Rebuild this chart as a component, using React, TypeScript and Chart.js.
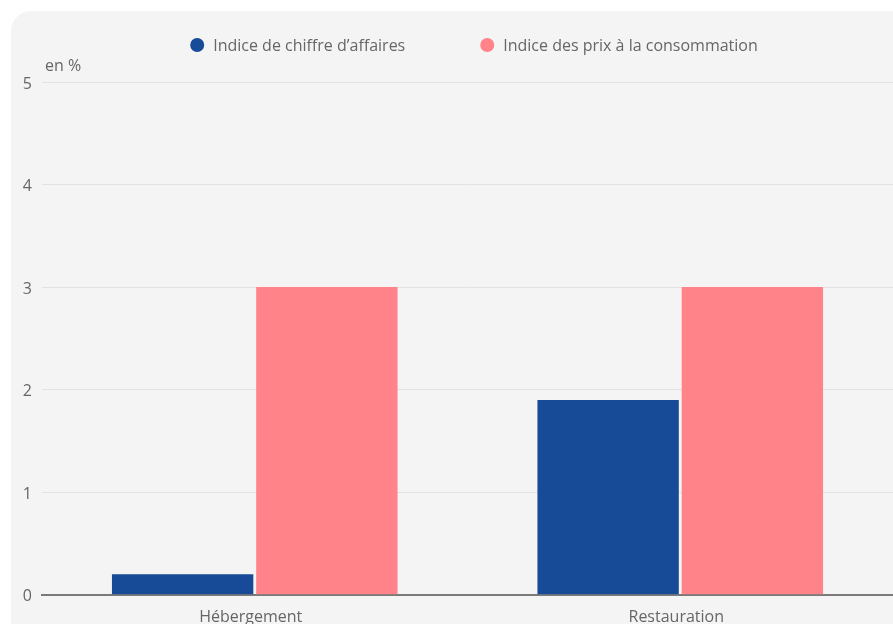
import React, { useEffect, useRef } from "react";
import { Chart, registerables } from "chart.js";

Chart.register(...registerables);

const categories = ["Hébergement", "Restauration"];
const seriesNames = ["Indice de chiffre d’affaires", "Indice des prix à la consommation"];
const chiffreAffaires = [0.2, 1.9];
const prixConsommation = [3.0, 3.0];
const yTicks = [0, 1, 2, 3, 4, 5];
const yTitle = "en %";

const BLUE = "#174a97";
const PINK = "#ff8389";
const FONT = "'Open Sans', 'Noto Sans', sans-serif";

const legendPlugin = {
  id: "customLegend",
  afterDraw(chart: any) {
    const ctx = chart.ctx;
    ctx.save();
    ctx.font = `16px ${FONT}`;
    ctx.textBaseline = "middle";
    const colors = [BLUE, PINK];
    const r = 7;
    const gapText = 9;
    const gapItem = 75;
    const widths = seriesNames.map((n) => 2 * r + gapText + ctx.measureText(n).width);
    const total = widths.reduce((a, b) => a + b, 0) + gapItem * (seriesNames.length - 1);
    let x = 474 - total / 2;
    const y = 45;
    seriesNames.forEach((n, i) => {
      ctx.fillStyle = colors[i];
      ctx.beginPath();
      ctx.arc(x + r, y, r, 0, Math.PI * 2);
      ctx.fill();
      ctx.fillStyle = "#666666";
      ctx.textAlign = "left";
      ctx.fillText(n, x + 2 * r + gapText, y + 1);
      x += widths[i] + gapItem;
    });
    // y axis title
    ctx.font = `16px ${FONT}`;
    ctx.fillStyle = "#666666";
    ctx.fillText(yTitle, chart.chartArea.left + 3, chart.chartArea.top - 16);
    ctx.restore();
  },
};

export default function App() {
  const ref = useRef<HTMLCanvasElement | null>(null);
  useEffect(() => {
    if (!ref.current) return;
    const chart = new Chart(ref.current, {
      type: "bar",
      data: {
        labels: categories,
        datasets: [
          {
            label: seriesNames[0],
            data: chiffreAffaires,
            backgroundColor: BLUE,
            categoryPercentage: 0.678,
            barPercentage: 0.98,
          },
          {
            label: seriesNames[1],
            data: prixConsommation,
            backgroundColor: PINK,
            categoryPercentage: 0.678,
            barPercentage: 0.98,
          },
        ],
      },
      options: {
        animation: false,
        responsive: false,
        maintainAspectRatio: false,
        layout: { padding: { top: 82, bottom: 0, left: 0, right: 0 } },
        plugins: {
          legend: { display: false },
          tooltip: { enabled: false },
        },
        scales: {
          x: {
            grid: { display: false, drawTicks: false },
            border: { display: true, color: "#7a7a7a", width: 2 },
            ticks: { color: "#666666", font: { family: FONT, size: 16 }, padding: 13, labelOffset: -4 },
          },
          y: {
            min: 0,
            max: 5,
            afterBuildTicks(scale: any) {
              scale.ticks = yTicks.map((v) => ({ value: v }));
            },
            afterFit(scale: any) {
              scale.width = 42;
            },
            grid: { color: "#e2e2e2", lineWidth: 1, drawTicks: false },
            border: { display: false },
            ticks: { color: "#666666", font: { family: FONT, size: 16 }, padding: 10, labelOffset: 2 },
          },
        },
      },
      plugins: [legendPlugin],
    });
    return () => chart.destroy();
  }, []);

  return (
    <div style={{ position: "fixed", left: 0, top: 0, width: 893, height: 624, overflow: "hidden", background: "#ffffff" }}>
      <div
        style={{
          position: "absolute",
          left: 11,
          top: 11,
          width: 930,
          height: 700,
          background: "#f4f4f4",
          borderRadius: 20,
        }}
      />
      <canvas ref={ref} width={893} height={640} style={{ position: "absolute", left: 0, top: 0, width: 893, height: 640 }} />
    </div>
  );
}
